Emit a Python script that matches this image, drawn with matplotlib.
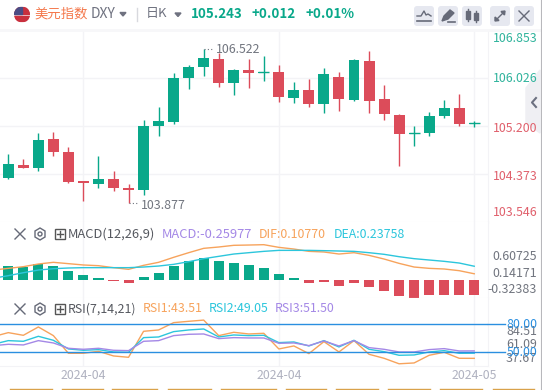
import matplotlib
matplotlib.use('Agg')
import matplotlib.pyplot as plt
from matplotlib.patches import FancyBboxPatch, Circle, Polygon, Rectangle

plt.rcParams['font.family'] = ['Noto Sans CJK SC', 'DejaVu Sans']

# daily candles, oldest first
opens = [104.304, 104.528, 104.477, 104.976, 104.752, 104.253, 104.201, 104.287, 104.132, 104.098,
         105.200, 105.269, 106.027, 106.216, 106.354, 105.941, 106.164, 106.113, 106.130, 105.682,
         105.820, 105.579, 106.044, 105.648, 106.319, 105.665, 105.389, 105.062, 105.079, 105.372,
         105.510, 105.231]
closes = [104.546, 104.477, 104.959, 104.752, 104.236, 104.218, 104.287, 104.132, 104.098, 105.200,
          105.286, 106.027, 106.216, 106.371, 105.941, 106.164, 106.113, 106.130, 105.699, 105.820,
          105.579, 106.096, 105.665, 106.337, 105.631, 105.407, 105.062, 105.079, 105.372, 105.510,
          105.234, 105.243]
highs = [104.718, 104.632, 105.079, 105.091, 104.838, 104.253, 104.683, 104.425, 104.201, 105.303,
         105.527, 106.113, 106.251, 106.522, 106.457, 106.182, 106.354, 106.406, 106.251, 105.958,
         106.009, 106.199, 106.130, 106.354, 106.492, 105.906, 105.407, 105.200, 105.441, 105.648,
         105.751, 105.286]
lows = [104.287, 104.477, 104.425, 104.683, 104.218, 103.914, 104.132, 104.081, 103.877, 104.012,
        105.028, 105.234, 105.837, 106.061, 105.872, 105.734, 105.854, 105.975, 105.613, 105.596,
        105.527, 105.424, 105.458, 105.631, 105.424, 105.303, 104.511, 104.856, 105.028, 105.338,
        105.200, 105.183]

# macd pane, lines carry one extra bar on the left that is cut off by the pane
macd_hist = [0.241, 0.224, 0.276, 0.241, 0.155, 0.086, 0.034, -0.017, -0.052, 0.052,
             0.121, 0.241, 0.328, 0.379, 0.328, 0.293, 0.259, 0.207, 0.103, 0.034,
             -0.052, -0.034, -0.103, -0.052, -0.121, -0.19, -0.276, -0.31, -0.259, -0.259,
             -0.26, -0.2598]
dif = [0.172, 0.201, 0.23, 0.276, 0.305, 0.282, 0.259, 0.247, 0.213, 0.184, 0.253,
       0.305, 0.391, 0.471, 0.546, 0.569, 0.598, 0.603, 0.609, 0.563, 0.534,
       0.494, 0.483, 0.448, 0.471, 0.425, 0.362, 0.287, 0.224, 0.201, 0.19, 0.161, 0.1077]
dea = [0.03, 0.075, 0.126, 0.172, 0.195, 0.207, 0.213, 0.213, 0.213, 0.213, 0.224,
       0.241, 0.27, 0.316, 0.368, 0.408, 0.448, 0.471, 0.494, 0.511, 0.511,
       0.511, 0.506, 0.5, 0.494, 0.471, 0.443, 0.402, 0.368, 0.345, 0.322, 0.293, 0.2376]

rsi1 = [66.8, 71.07, 68.21, 77.14, 67.86, 48.93, 48.93, 51.07, 46.07, 44.64, 72.5,
        73.93, 81.79, 83.21, 84.51, 67.86, 71.43, 69.64, 70.36, 53.57, 56.79,
        48.57, 61.43, 50.36, 62.5, 47.86, 43.57, 37.67, 38.57, 46.79, 50.0, 43.57, 43.51]
rsi2 = [58.6, 62.5, 61.79, 67.14, 62.86, 53.57, 52.14, 52.86, 50.36, 50.0, 65.71,
        66.43, 72.14, 73.93, 75.0, 66.43, 68.57, 67.86, 68.21, 60.36, 61.07,
        56.79, 62.5, 55.71, 62.86, 53.21, 50.71, 46.79, 47.14, 50.36, 51.79, 48.93, 49.05]
rsi3 = [57.1, 58.57, 57.86, 62.5, 60.0, 54.29, 53.21, 54.29, 52.14, 51.79, 61.79,
        62.5, 67.86, 69.29, 69.64, 64.64, 65.71, 65.36, 65.36, 59.64, 60.0,
        57.14, 62.14, 56.79, 62.5, 55.0, 53.21, 50.36, 50.36, 52.86, 53.93, 51.43, 51.5]

price_grid = [105.200, 104.373, 106.026]
date_pos = [5, 18, 31]
date_labels = ['2024-04', '2024-04', '2024-05']

GREEN = '#09a88a'
RED = '#dc4c5a'
GRID = '#f3f3f6'
ORANGE = '#f7a35c'
CYAN = '#2cc6dc'
PURPLE = '#a488e6'
BLUE = '#2a8fe0'
GREY = '#71757f'

W, H = 542, 390
PANE_R = 488
STEP = 15.03
X0 = 8.3


def pane(top, bottom):
    ax = fig.add_axes([0, 1 - bottom / H, PANE_R / W, (bottom - top) / H])
    ax.set_xlim(-X0 / STEP, (PANE_R - X0) / STEP)
    for s in ['left', 'top']:
        ax.spines[s].set_visible(False)
    ax.spines['right'].set_color(GRID)
    ax.spines['bottom'].set_color(GRID)
    ax.set_xticks(date_pos)
    ax.set_xticklabels([])
    ax.set_yticks([])
    ax.tick_params(length=0)
    ax.grid(axis='x', color=GRID, lw=1)
    ax.set_axisbelow(True)
    return ax


fig = plt.figure(figsize=(W / 100, H / 100), dpi=100, facecolor='white')

# candles
ax1 = pane(30, 222)
ax1.set_ylim(103.546, 106.853)
ax1.set_yticks(price_grid)
ax1.set_yticklabels([])
ax1.grid(axis='y', color=GRID, lw=1)
ax1.spines['top'].set_visible(True)
ax1.spines['top'].set_color(GRID)
xs = list(range(len(opens)))
for i in xs:
    col = GREEN if closes[i] >= opens[i] else RED
    ax1.vlines(i, lows[i], highs[i], color=col, lw=1.0)
    ax1.bar(i, abs(closes[i] - opens[i]), bottom=min(opens[i], closes[i]), width=0.73, color=col, zorder=3)
    if abs(closes[i] - opens[i]) < 0.03:
        ax1.hlines(closes[i], i - 0.365, i + 0.365, color=col, lw=1.0, zorder=3)

# hi / lo marks
hi = highs.index(max(highs))
lo = lows.index(min(lows))
ax1.plot([hi, hi + 0.68], [highs[hi], highs[hi]], ls=(0, (1, 2)), color=GREY, lw=0.8)
ax1.plot([lo, lo + 0.68], [lows[lo], lows[lo]], ls=(0, (1, 2)), color=GREY, lw=0.8)
ax1.text(hi + 0.8, highs[hi], '%.3f' % highs[hi], color=GREY, fontsize=8.9, va='center', ha='left')
ax1.text(lo + 0.8, lows[lo] - 0.05, '%.3f' % lows[lo], color=GREY, fontsize=8.9, va='center', ha='left')

# macd
ax2 = pane(222, 298)
ax2.set_ylim(-0.31, 1.0)
xl = list(range(-1, len(opens)))
ax2.bar(xs, macd_hist, width=0.67, color=[GREEN if v >= 0 else RED for v in macd_hist], zorder=2)
ax2.plot(xl, dif, color=ORANGE, lw=1.0, zorder=3)
ax2.plot(xl, dea, color=CYAN, lw=1.0, zorder=3)

# rsi
ax3 = pane(298, 366)
ax3.set_ylim(35.3, 108.2)
ax3.spines['top'].set_visible(False)
ax3.plot(xl, rsi1, color=ORANGE, lw=1.0)
ax3.plot(xl, rsi2, color=CYAN, lw=1.0)
ax3.plot(xl, rsi3, color=PURPLE, lw=1.0)
for lvl in [80, 50]:
    ax3.axhline(lvl, color=BLUE, lw=1.0, zorder=4)
ax3.set_xticklabels(date_labels, fontsize=8.9, color='#b0b2c0')
ax3.tick_params(axis='x', pad=2.5, length=0)

# header, axis labels and icons in pixel coordinates
top = fig.add_axes([0, 0, 1, 1], facecolor='none')
top.set_xlim(0, W)
top.set_ylim(H, 0)
top.axis('off')


def label(x, y, s, col, size=8.9, ha='left', **kw):
    top.text(x, y, s, color=col, fontsize=size, ha=ha, va='center', **kw)


top.plot([0, 540], [29.5, 29.5], color='#f7f7f9', lw=2)

# flag
flag = Circle((22, 14.5), 8, transform=top.transData)
for k in range(7):
    r = Rectangle((14, 6.5 + k * 16 / 7), 16, 16 / 14, color='#c9303e', zorder=3)
    top.add_patch(r)
    r.set_clip_path(flag)
r = Rectangle((14, 6.5), 8, 7, color='#4a4d85', zorder=4)
top.add_patch(r)
r.set_clip_path(flag)

label(34, 13.5, '美元指数', '#f4784c', size=9.6)
label(91, 14.5, 'DXY', '#6f7280', size=10)
top.add_patch(Polygon([[120, 12.5], [126, 12.5], [123, 16]], color='#6f7280'))
top.plot([136.5, 136.5], [8, 21], color='#d8d9de', lw=1)
label(146, 14, '日K', '#6f7280', size=9.4)
top.add_patch(Polygon([[175, 13], [181, 13], [178, 16.5]], color='#6f7280'))
label(191, 13.5, '105.243', GREEN, size=9.6, fontweight='bold')
label(252, 13.5, '+0.012', GREEN, size=9.6, fontweight='bold')
label(305, 13.5, '+0.01%', GREEN, size=9.6, fontweight='bold')

# toolbar buttons
for x0 in [414, 438, 462, 490, 514]:
    top.add_patch(FancyBboxPatch((x0 + 3, 9), 14, 14, boxstyle='round,pad=3', fc='#e6e8f0', ec='none'))
ic = '#666a78'
top.plot([417, 421, 424, 426, 428, 431], [16, 16, 11, 15, 14, 16], color=ic, lw=1)
top.plot([417, 431], [20.5, 20.5], color=ic, lw=1.2)
top.add_patch(Polygon([[442, 21], [444, 16], [450, 10], [454, 13], [448, 19]], color=ic))
top.plot([448, 455], [21.5, 21.5], color=ic, lw=1.2)
for cx, a, b in [(468, 11, 19), (476, 13, 20)]:
    top.add_patch(Rectangle((cx - 2, a), 4, b - a, color=ic))
    top.plot([cx, cx], [a - 2, b + 2], color=ic, lw=1)
top.plot([496, 504], [20, 12], color=ic, lw=1)
top.add_patch(Polygon([[501, 11.5], [505, 11], [504.5, 15]], color=ic))
top.add_patch(Polygon([[495, 17], [495, 21], [499, 20.5]], color=ic))
top.plot([519, 529], [11, 21], color=ic, lw=1)
top.plot([529, 519], [11, 21], color=ic, lw=1)

# right side collapse tab
top.add_patch(Polygon([[526, 88], [540, 70], [540, 133], [526, 123]], color='#efeff3'))
top.plot([536, 532, 536], [98, 102.5, 107], color='#6c7080', lw=1.5)
top.plot([540.8, 540.8], [0, 390], color='#b8b8bc', lw=0.8)

# price axis
for y, s, c in [(38, '106.853', '#2fb39c'), (79, '106.026', '#2fb39c'), (128, '105.200', '#e0606c'),
                (176.7, '104.373', '#e0606c'), (213, '103.546', '#e0606c')]:
    label(492.5, y, s, c, size=8.9)

# macd row
for yc in [234, 309]:
    top.plot([15, 25], [yc - 5, yc + 5], color='#666a78', lw=1)
    top.plot([25, 15], [yc - 5, yc + 5], color='#666a78', lw=1)
    top.add_patch(Polygon([[40, yc - 6], [45, yc - 3], [45, yc + 3], [40, yc + 6], [35, yc + 3], [35, yc - 3]],
                          fc='none', ec='#666a78', lw=1))
    top.add_patch(Circle((40, yc), 2, fc='none', ec='#666a78', lw=1))
    top.add_patch(Rectangle((54.5, yc - 5), 10, 10, fc='none', ec='#555', lw=1))
    top.plot([59.5, 59.5], [yc - 3, yc + 3], color='#555', lw=1)
    top.plot([56.5, 62.5], [yc, yc], color='#555', lw=1)

label(68, 234, 'MACD(12,26,9)', '#55585f', size=9.3)
label(162, 234, 'MACD:-0.25977', PURPLE, size=9.3)
label(259, 234, 'DIF:0.10770', ORANGE, size=8.9)
label(334, 234, 'DEA:0.23758', CYAN, size=8.9)
label(537, 256.7, '0.60725', GREY, ha='right')
label(537, 273.3, '0.14171', GREY, ha='right')
label(537, 289.3, '-0.32383', GREY, ha='right')

# rsi row
label(68, 309, 'RSI(7,14,21)', '#55585f', size=8.9)
label(143, 309, 'RSI1:43.51', ORANGE, size=8.9)
label(209, 309, 'RSI2:49.05', CYAN, size=8.9)
label(275, 309, 'RSI3:51.50', PURPLE, size=8.9)
top.plot([488, 505], [324.3, 324.3], color=BLUE, lw=1)
top.plot([488, 505], [352.3, 352.3], color=BLUE, lw=1)
label(537, 331.7, '84.51', GREY, ha='right')
label(537, 344.3, '61.09', GREY, ha='right')
label(537, 358.3, '37.67', GREY, ha='right')
label(537, 324.3, '80.00', BLUE, ha='right')
label(537, 352.3, '50.00', BLUE, ha='right')

# tops of the buttons under the chart
for a, b in [(10, 52), (62, 103), (112, 157), (168, 211), (221, 276), (286, 326), (336, 378), (388, 430), (440, 482), (493, 534)]:
    top.plot([a, b], [389.3, 389.3], color='#d9a24a', lw=1)

fig.savefig('out.png', dpi=100)
